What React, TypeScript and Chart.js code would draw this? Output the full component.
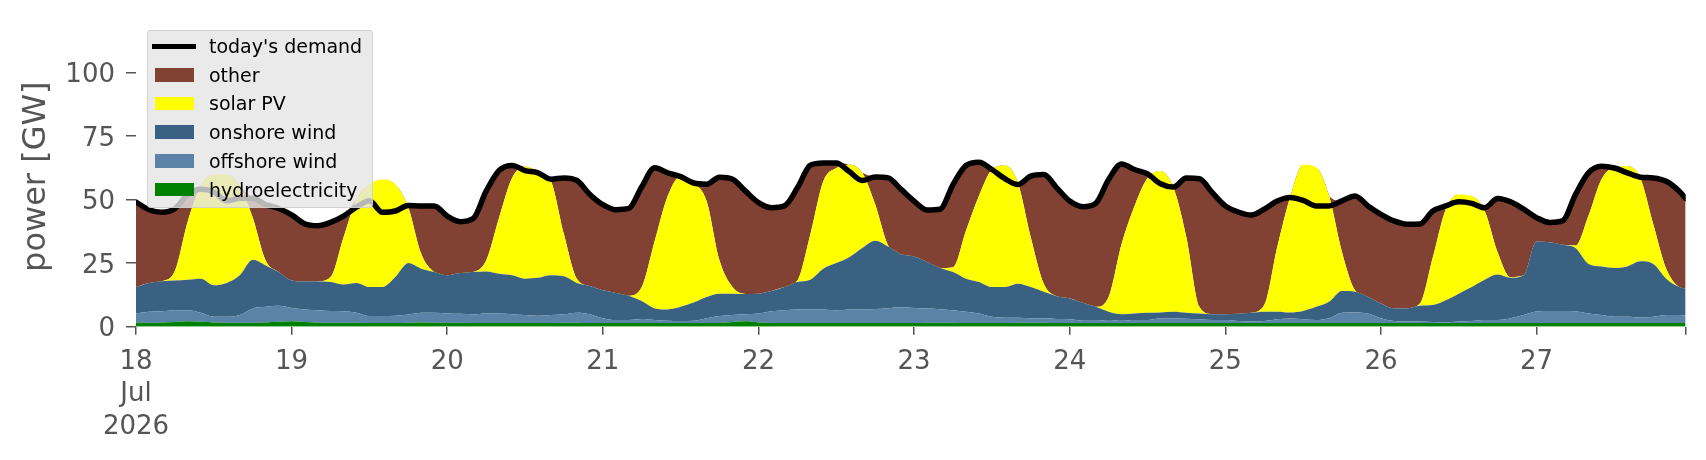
import React, { useEffect, useRef } from "react";
import { Chart, registerables } from "chart.js";

Chart.register(...registerables);

// hours since 18 Jul 2026 00:00
const hours = [
  0, 2, 4, 6, 8, 10, 12, 14, 16, 18, 20, 22, 24, 26, 28, 30, 32, 34, 36, 38,
  40, 42, 44, 46, 48, 50, 52, 54, 56, 58, 60, 62, 64, 66, 68, 70, 72, 74, 76, 78,
  80, 82, 84, 86, 88, 90, 92, 94, 96, 98, 100, 102, 104, 106, 108, 110, 112, 114, 116, 118,
  120, 122, 124, 126, 128, 130, 132, 134, 136, 138, 140, 142, 144, 146, 148, 150, 152, 154, 156, 158,
  160, 162, 164, 166, 168, 170, 172, 174, 176, 178, 180, 182, 184, 186, 188, 190, 192, 194, 196, 198,
  200, 202, 204, 206, 208, 210, 212, 214, 216, 218, 220, 222, 224, 226, 228, 230, 232, 234, 236, 238, 239,
];

const demand = [
  49, 46, 45, 46.5, 52, 54, 53, 49.5, 50.5, 50.5,
  48, 46.5, 44, 40.5, 39.7, 41, 43.5, 47, 49.5, 45,
  45.5, 47.7, 47.5, 47.5, 43.5, 41.3, 42.5, 53.3, 61.4, 63.4,
  61.4, 60.5, 58, 58.5, 57.5, 52, 48, 46, 46.5, 55,
  62.5, 60.5, 59, 56.5, 56, 58.8, 58, 53.3, 48.8, 46.8,
  47.5, 54.6, 63.5, 64.4, 64.4, 61, 57.5, 58.9, 58.5, 54,
  49.4, 45.9, 46.2, 55.9, 63.4, 64.7, 61.8, 58.2, 55.9, 59.2,
  59.8, 54.6, 49.4, 47.2, 48.5, 57.9, 64, 61.8, 60.1, 56.2,
  54.9, 58.5, 58.2, 52.7, 47.5, 45.1, 43.9, 46.2, 49.4, 50.8,
  49.7, 47.5, 47.5, 49.5, 51.4, 47.5, 44.2, 41.6, 40.3, 40.4,
  45.5, 47.5, 49.1, 48.5, 46.8, 50.4, 49.1, 46.2, 42.9, 41,
  41.6, 52, 60.5, 63.1, 62.4, 60.5, 58.8, 58.5, 57.2, 53.3, 50.4,
];

const hydro = [
  1.6, 1.6, 1.6, 1.8, 2.1, 1.9, 1.7, 1.6, 1.6, 1.6,
  1.7, 1.9, 2.1, 1.8, 1.6, 1.6, 1.6, 1.6, 1.5, 1.5,
  1.5, 1.6, 1.7, 1.6, 1.6, 1.6, 1.5, 1.5, 1.5, 1.5,
  1.5, 1.5, 1.5, 1.6, 1.6, 1.5, 1.5, 1.5, 1.5, 1.5,
  1.5, 1.5, 1.5, 1.5, 1.5, 1.5, 1.8, 2.1, 1.7, 1.5,
  1.5, 1.5, 1.5, 1.5, 1.5, 1.5, 1.5, 1.5, 1.5, 1.5,
  1.5, 1.6, 1.6, 1.6, 1.5, 1.5, 1.5, 1.5, 1.6, 1.6,
  1.6, 1.5, 1.5, 1.5, 1.5, 1.5, 1.5, 1.5, 1.5, 1.5,
  1.5, 1.5, 1.5, 1.5, 1.5, 1.5, 1.5, 1.5, 1.5, 1.5,
  1.5, 1.5, 1.5, 1.5, 1.5, 1.5, 1.5, 1.5, 1.5, 1.5,
  1.5, 1.5, 1.5, 1.5, 1.5, 1.5, 1.5, 1.5, 1.5, 1.5,
  1.5, 1.5, 1.5, 1.5, 1.5, 1.5, 1.5, 1.5, 1.5, 1.5, 1.5,
];

const offshoreWind = [
  3.6, 4.3, 4.5, 4.7, 4.4, 3.6, 2.2, 2.3, 3.0, 5.6,
  6.1, 6.3, 5.3, 5.0, 4.9, 4.6, 4.5, 3.9, 2.7, 2.7,
  2.8, 3.2, 3.8, 3.9, 3.6, 3.5, 3.4, 3.7, 3.7, 3.4,
  3.1, 2.8, 3.1, 3.3, 3.9, 3.4, 1.8, 1.1, 1.1, 1.5,
  1.1, 0.8, 0.7, 0.8, 1.8, 2.7, 2.8, 2.8, 3.5, 4.6,
  5.0, 5.3, 5.4, 5.3, 5.0, 5.3, 5.4, 5.5, 5.8, 6.1,
  5.9, 5.6, 5.3, 4.9, 4.4, 3.7, 2.4, 2.0, 1.9, 1.7,
  1.7, 1.5, 1.4, 0.8, 0.8, 1.1, 0.8, 1.1, 1.1, 1.8,
  1.8, 1.6, 1.4, 1.1, 1.1, 0.7, 0.5, 0.7, 1.4, 1.7,
  1.4, 1.1, 1.8, 4.0, 4.1, 3.7, 1.8, 0.7, 0.5, 0.5,
  0.3, 0.2, 0.5, 0.7, 1.1, 1.1, 1.8, 3.1, 4.5, 4.7,
  4.7, 4.6, 3.7, 3.1, 2.4, 2.4, 2.1, 2.4, 3.1, 3.1, 2.9,
];

const onshoreWind = [
  10.4, 11.3, 11.8, 11.7, 12.0, 13.4, 12.4, 13.3, 15.6, 19.1,
  16.3, 13.3, 10.8, 11.0, 11.3, 11.4, 10.5, 11.7, 11.4, 11.4,
  15.2, 20.2, 17.3, 16.0, 15.0, 16.0, 16.6, 16.5, 15.6, 15.3,
  14.3, 14.9, 15.6, 14.9, 11.7, 11.1, 11.0, 10.7, 9.6, 7.1,
  4.6, 4.5, 5.6, 7.2, 8.4, 8.8, 8.4, 8.0, 7.8, 7.9,
  9.1, 10.8, 11.6, 16.0, 18.5, 20.5, 24.0, 26.8, 24.2, 20.9,
  20.2, 18.2, 16.2, 15.0, 13.0, 12.4, 11.7, 12.1, 13.4, 12.3,
  10.4, 9.0, 8.2, 7.1, 5.5, 3.3, 2.6, 2.6, 2.9, 2.3,
  2.6, 2.4, 2.3, 2.3, 2.3, 2.9, 3.5, 3.7, 3.0, 2.4,
  3.3, 5.2, 6.5, 8.5, 8.1, 6.5, 5.8, 5.0, 5.2, 6.2,
  6.7, 8.7, 11.0, 13.4, 15.9, 17.9, 15.9, 15.6, 27.5, 27.0,
  26.0, 24.8, 19.5, 19.1, 19.2, 19.8, 22.1, 20.8, 14.3, 11.0, 10.6,
];

const solarPV = [
  0, 0, 0, 3.8, 23.1, 36.4, 43.5, 42.6, 35.1, 16.6,
  1.9, 0, 0, 0, 0, 1.9, 18.5, 32.8, 40.3, 42.3,
  36.4, 21.8, 5.8, 0, 0, 0, 0, 4.3, 22.1, 38.3,
  44.1, 41.8, 37.0, 16.6, 1.7, 0, 0, 0, 0, 5.5,
  26.6, 44.6, 51.4, 47.1, 37.7, 13.0, 2.6, 0, 0, 0,
  0, 0.6, 17.9, 34.4, 37.4, 36.4, 29.6, 14.3, 0.4, 0,
  0, 0, 0, 1.9, 18.8, 33.8, 46.2, 47.8, 39.7, 19.5,
  3.2, 0, 0, 0, 0, 5.8, 27.6, 42.3, 53.0, 55.5,
  48.7, 29.6, 2.6, 0, 0, 0, 0, 2.6, 25.3, 45.4,
  57.5, 54.9, 41.6, 15.3, 0.6, 0, 0, 0, 0, 0.9,
  18.8, 35.8, 39.0, 35.8, 27.0, 8.8, 0.3, 0, 0, 0,
  0, 1.0, 18.9, 34.2, 39.6, 39.4, 32.8, 15.6, 3.9, 0, 0,
];

const other = [
  33.4, 28.8, 27.1, 24.5, 10.4, 0, 0, 0, 0, 7.6,
  22.0, 25.0, 25.8, 22.7, 21.9, 21.5, 8.4, 0, 0, 0,
  0, 0.9, 18.9, 26.0, 23.3, 20.2, 21.0, 27.3, 18.5, 4.9,
  0, 0, 0.8, 22.1, 38.6, 36.0, 33.7, 32.7, 34.3, 39.4,
  28.7, 9.1, 0, 0, 6.6, 32.8, 42.4, 40.4, 35.8, 32.8,
  31.9, 36.4, 27.1, 7.2, 2.0, 0, 0, 10.8, 26.6, 25.5,
  21.8, 20.5, 23.1, 32.5, 25.7, 13.3, 0, 0, 0, 24.1,
  42.9, 42.6, 38.3, 37.8, 40.7, 46.2, 31.5, 14.3, 1.6, 0,
  0.3, 23.4, 50.4, 47.8, 42.6, 40.0, 38.4, 37.7, 18.2, 0,
  0, 0, 0, 20.2, 37.1, 35.8, 35.1, 34.4, 33.1, 31.3,
  18.2, 1.3, 0, 0, 1.3, 21.1, 29.6, 26.0, 9.4, 7.8,
  9.4, 20.1, 16.9, 5.2, 0, 0, 0.3, 18.2, 34.4, 37.7, 35.4,
];

const xTickHours = [0, 24, 48, 72, 96, 120, 144, 168, 192, 216, 239];
const xTickLabels: (string | string[])[] = [
  ["18", "Jul", "2026"], "19", "20", "21", "22", "23", "24", "25", "26", "27", "",
];
const yTickValues = [0, 25, 50, 75, 100];

const COLORS = {
  demand: "#000000",
  other: "#814234",
  solar: "#ffff00",
  onshore: "#3b6182",
  offshore: "#5b83a7",
  hydro: "#008000",
};

const legendItems = [
  { label: "today's demand", color: COLORS.demand, line: true },
  { label: "other", color: COLORS.other },
  { label: "solar PV", color: COLORS.solar },
  { label: "onshore wind", color: COLORS.onshore },
  { label: "offshore wind", color: COLORS.offshore },
  { label: "hydroelectricity", color: COLORS.hydro },
];

const FONT = "'DejaVu Sans', sans-serif";

function pts(values: number[]) {
  return values.map((v, i) => ({ x: hours[i], y: v }));
}

export default function App() {
  const canvasRef = useRef<HTMLCanvasElement | null>(null);

  useEffect(() => {
    const canvas = canvasRef.current;
    if (!canvas) return;
    const area = (label: string, data: number[], color: string, fill: any) => ({
      label,
      data: pts(data),
      backgroundColor: color,
      borderColor: color,
      borderWidth: 0,
      pointRadius: 0,
      fill,
      stack: "gen",
      order: 1,
      cubicInterpolationMode: "monotone" as const,
    });
    const chart = new Chart(canvas, {
      type: "line",
      data: {
        datasets: [
          area("hydroelectricity", hydro, COLORS.hydro, "origin"),
          area("offshore wind", offshoreWind, COLORS.offshore, "-1"),
          area("onshore wind", onshoreWind, COLORS.onshore, "-1"),
          area("solar PV", solarPV, COLORS.solar, "-1"),
          area("other", other, COLORS.other, "-1"),
          {
            label: "today's demand",
            data: pts(demand),
            borderColor: COLORS.demand,
            backgroundColor: COLORS.demand,
            borderWidth: 5.5,
            pointRadius: 0,
            fill: false,
            stack: "demand",
            order: 0,
            borderJoinStyle: "round",
            borderCapStyle: "round",
            cubicInterpolationMode: "monotone",
          } as any,
        ],
      },
      options: {
        responsive: false,
        animation: false,
        devicePixelRatio: 1,
        layout: { padding: { left: 0, right: 20.3, top: 24.2, bottom: 0 } },
        plugins: {
          legend: { display: false },
          tooltip: { enabled: false },
        },
        scales: {
          x: {
            type: "linear",
            min: 0,
            max: 239,
            border: { display: false },
            grid: {
              drawOnChartArea: false,
              drawTicks: true,
              tickLength: 8,
              color: "#555555",
              lineWidth: 1.5,
            },
            afterBuildTicks: (scale: any) => {
              scale.ticks = xTickHours.map((v) => ({ value: v }));
            },
            afterFit: (scale: any) => {
              scale.height = 460 - 326.7;
            },
            ticks: {
              autoSkip: false,
              maxRotation: 0,
              minRotation: 0,
              padding: 11,
              color: "#555555",
              font: { family: FONT, size: 26, lineHeight: 1.25 },
              callback: (value: any) => {
                const idx = xTickHours.indexOf(Number(value));
                return idx >= 0 ? xTickLabels[idx] : "";
              },
            },
          },
          y: {
            type: "linear",
            stacked: true,
            min: 0,
            max: 118,
            border: { display: false },
            grid: {
              drawOnChartArea: false,
              drawTicks: true,
              tickLength: 10,
              color: "#555555",
              lineWidth: 1.5,
            },
            afterBuildTicks: (scale: any) => {
              scale.ticks = yTickValues.map((v) => ({ value: v }));
            },
            afterFit: (scale: any) => {
              scale.width = 136;
            },
            ticks: {
              padding: 11,
              labelOffset: 3,
              color: "#555555",
              font: { family: FONT, size: 26 },
              callback: (value: any) => String(value),
            },
            title: {
              display: true,
              text: "power [GW]",
              color: "#555555",
              font: { family: FONT, size: 32, lineHeight: 1.2 },
              padding: { top: 17, bottom: 0 },
            },
          },
        },
      },
    });
    return () => chart.destroy();
  }, []);

  return (
    <div
      style={{
        position: "absolute",
        left: 0,
        top: 0,
        width: 1706,
        height: 460,
        background: "#ffffff",
        fontFamily: FONT,
      }}
    >
      <canvas ref={canvasRef} width={1706} height={460} style={{ display: "block" }} />
      <div
        style={{
          position: "absolute",
          left: 146.7,
          top: 30,
          width: 226.6,
          height: 178.3,
          boxSizing: "border-box",
          background: "rgba(229,229,229,0.8)",
          border: "1px solid rgba(204,204,204,0.8)",
          borderRadius: 4,
        }}
      >
        {legendItems.map((item, i) => {
          const cy = 45 + i * 28.7 - 30;
          return (
            <div key={item.label}>
              {item.line ? (
                <div
                  style={{
                    position: "absolute",
                    left: 4.5,
                    top: cy - 2.5,
                    width: 43.5,
                    height: 5,
                    background: item.color,
                  }}
                />
              ) : (
                <div
                  style={{
                    position: "absolute",
                    left: 7.3,
                    top: cy - 6.9,
                    width: 38.7,
                    height: 13.8,
                    background: item.color,
                  }}
                />
              )}
              <div
                style={{
                  position: "absolute",
                  left: 61.3,
                  top: cy - 11,
                  height: 22,
                  lineHeight: "22px",
                  fontSize: 19,
                  color: "#000000",
                  whiteSpace: "nowrap",
                }}
              >
                {item.label}
              </div>
            </div>
          );
        })}
      </div>
    </div>
  );
}
